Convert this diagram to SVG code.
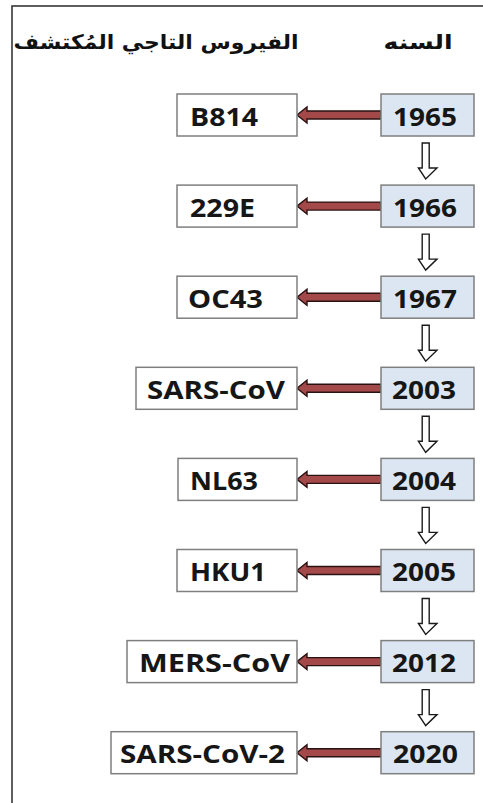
<svg xmlns="http://www.w3.org/2000/svg" width="483" height="803" viewBox="0 0 483 803">
<style>
.yr{fill:#dce6f2;stroke:#7f7f7f;stroke-width:1.5}
.vb{fill:#ffffff;stroke:#7f7f7f;stroke-width:1.5}
.t{font-family:"Open Sans","DejaVu Sans",sans-serif;font-weight:bold;font-size:25px;fill:#161616}
.ar{font-family:"DejaVu Sans",sans-serif;font-weight:bold;font-size:20px;fill:#111}
.h{fill:#a3494a;stroke:#2a1212;stroke-width:1.4;stroke-linejoin:miter}
.v{fill:#ffffff;stroke:#1a1a1a;stroke-width:1.4}
</style>
<rect width="483" height="803" fill="#ffffff"/>
<path d="M483 6 H12 V803" fill="none" stroke="#2a2a2a" stroke-width="1.5"/>
<g id="headers">
<text class="ar" x="418" y="49" text-anchor="middle" direction="rtl" textLength="69" lengthAdjust="spacingAndGlyphs">السنه</text>
<text class="ar" x="156" y="49" text-anchor="middle" direction="rtl" textLength="285" lengthAdjust="spacingAndGlyphs">الفيروس التاجي المُكتشف</text>
</g>
<g id="connectors">
<path class="h" d="M381 111 H307 V107 L297 115 L307 123 V119 H381 Z"/>
<path class="h" d="M381 202.1 H307 V198.1 L297 206.1 L307 214.1 V210.1 H381 Z"/>
<path class="h" d="M381 293.2 H307 V289.2 L297 297.2 L307 305.2 V301.2 H381 Z"/>
<path class="h" d="M381 384.3 H307 V380.3 L297 388.3 L307 396.3 V392.3 H381 Z"/>
<path class="h" d="M381 475.4 H307 V471.4 L297 479.4 L307 487.4 V483.4 H381 Z"/>
<path class="h" d="M381 566.5 H307 V562.5 L297 570.5 L307 578.5 V574.5 H381 Z"/>
<path class="h" d="M381 657.6 H307 V653.6 L297 661.6 L307 669.6 V665.6 H381 Z"/>
<path class="h" d="M381 748.7 H307 V744.7 L297 752.7 L307 760.7 V756.7 H381 Z"/>
<path class="v" d="M422.2 143 H429.2 V168 H437 L425.7 179 L418.4 168 H422.2 Z"/>
<path class="v" d="M422.2 234.1 H429.2 V259.1 H437 L425.7 270.1 L418.4 259.1 H422.2 Z"/>
<path class="v" d="M422.2 325.2 H429.2 V350.2 H437 L425.7 361.2 L418.4 350.2 H422.2 Z"/>
<path class="v" d="M422.2 416.3 H429.2 V441.3 H437 L425.7 452.3 L418.4 441.3 H422.2 Z"/>
<path class="v" d="M422.2 507.4 H429.2 V532.4 H437 L425.7 543.4 L418.4 532.4 H422.2 Z"/>
<path class="v" d="M422.2 598.5 H429.2 V623.5 H437 L425.7 634.5 L418.4 623.5 H422.2 Z"/>
<path class="v" d="M422.2 689.6 H429.2 V714.6 H437 L425.7 725.6 L418.4 714.6 H422.2 Z"/>
</g>
<g id="y1965"><rect class="yr" x="381" y="94" width="93" height="42"/><text class="t" x="393" y="125.5" textLength="64" lengthAdjust="spacingAndGlyphs">1965</text></g>
<g id="y1966"><rect class="yr" x="381" y="185.1" width="93" height="42"/><text class="t" x="393" y="216.6" textLength="64" lengthAdjust="spacingAndGlyphs">1966</text></g>
<g id="y1967"><rect class="yr" x="381" y="276.2" width="93" height="42"/><text class="t" x="393" y="307.7" textLength="64" lengthAdjust="spacingAndGlyphs">1967</text></g>
<g id="y2003"><rect class="yr" x="381" y="367.3" width="93" height="42"/><text class="t" x="392" y="398.8" textLength="64" lengthAdjust="spacingAndGlyphs">2003</text></g>
<g id="y2004"><rect class="yr" x="381" y="458.4" width="93" height="42"/><text class="t" x="392" y="489.9" textLength="64" lengthAdjust="spacingAndGlyphs">2004</text></g>
<g id="y2005"><rect class="yr" x="381" y="549.5" width="93" height="42"/><text class="t" x="392" y="581" textLength="64" lengthAdjust="spacingAndGlyphs">2005</text></g>
<g id="y2012"><rect class="yr" x="381" y="640.6" width="93" height="42"/><text class="t" x="392" y="672.1" textLength="64" lengthAdjust="spacingAndGlyphs">2012</text></g>
<g id="y2020"><rect class="yr" x="381" y="731.7" width="93" height="42"/><text class="t" x="393" y="763.2" textLength="65" lengthAdjust="spacingAndGlyphs">2020</text></g>
<g id="vB814"><rect class="vb" x="177" y="94" width="120" height="42"/><text class="t" x="190" y="125.5" textLength="68" lengthAdjust="spacingAndGlyphs">B814</text></g>
<g id="v229E"><rect class="vb" x="177" y="185.1" width="120" height="42"/><text class="t" x="190" y="216.6" textLength="65" lengthAdjust="spacingAndGlyphs">229E</text></g>
<g id="vOC43"><rect class="vb" x="177" y="276.2" width="120" height="42"/><text class="t" x="188" y="307.7" textLength="75" lengthAdjust="spacingAndGlyphs">OC43</text></g>
<g id="vSARS"><rect class="vb" x="136" y="367.3" width="161" height="42"/><text class="t" x="147" y="398.8" textLength="138" lengthAdjust="spacingAndGlyphs">SARS-CoV</text></g>
<g id="vNL63"><rect class="vb" x="178" y="458.4" width="119" height="42"/><text class="t" x="190" y="489.9" textLength="68" lengthAdjust="spacingAndGlyphs">NL63</text></g>
<g id="vHKU1"><rect class="vb" x="177" y="549.5" width="120" height="42"/><text class="t" x="190" y="581" textLength="76" lengthAdjust="spacingAndGlyphs">HKU1</text></g>
<g id="vMERS"><rect class="vb" x="127" y="640.6" width="170" height="42"/><text class="t" x="139" y="672.1" textLength="151" lengthAdjust="spacingAndGlyphs">MERS-CoV</text></g>
<g id="vSARS2"><rect class="vb" x="111" y="731.7" width="186" height="42"/><text class="t" x="120" y="763.2" textLength="165" lengthAdjust="spacingAndGlyphs">SARS-CoV-2</text></g>
</svg>
